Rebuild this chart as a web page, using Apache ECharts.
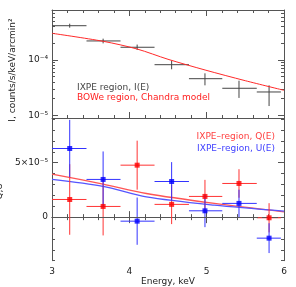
<!DOCTYPE html>
<html><head><meta charset="utf-8">
<script src="https://cdn.jsdelivr.net/npm/echarts@6/dist/echarts.min.js"></script>
<style>html,body{margin:0;padding:0;background:#fff}#c{width:296px;height:287px}</style>
</head><body><div id="c"></div>
<script>
// ---- data ----
const energyCenter = [3.229, 3.661, 4.101, 4.547, 4.978, 5.418, 5.807];
const energyLo     = [3.0,   3.446, 3.886, 4.326, 4.771, 5.202, 5.648];
const energyHi     = [3.446, 3.886, 4.326, 4.771, 5.202, 5.648, 5.96];

const intensity   = [4.17e-4, 2.21e-4, 1.70e-4, 8.22e-5, 4.59e-5, 3.08e-5, 2.64e-5];
const intensityLo = [3.84e-4, 2.00e-4, 1.52e-4, 6.79e-5, 3.48e-5, 2.06e-5, 1.47e-5];
const intensityHi = [4.53e-4, 2.43e-4, 1.90e-4, 9.71e-5, 5.74e-5, 4.22e-5, 3.48e-5];

const modelIEnergy = [3.0, 3.66, 4.10, 4.50, 4.98, 5.50, 6.0];
const modelI       = [3.04e-4, 2.18e-4, 1.58e-4, 1.03e-4, 6.59e-5, 4.22e-5, 2.83e-5];

const qValue = [1.62e-5, 0.98e-5, 4.77e-5, 1.17e-5, 1.90e-5, 3.09e-5, -0.06e-5];
const qErr   = [3.24e-5, 2.66e-5, 2.25e-5, 1.81e-5, 1.52e-5, 1.31e-5, 1.34e-5];
const uValue = [6.30e-5, 3.46e-5, -0.37e-5, 3.27e-5, 0.58e-5, 1.26e-5, -1.93e-5];
const uErr   = [2.63e-5, 2.57e-5, 2.17e-5, 1.78e-5, 1.50e-5, 1.26e-5, 1.37e-5];

const modelQUEnergy = [3.0, 3.66, 4.22, 5.10, 6.0];
const modelQ = [3.95e-5, 3.03e-5, 2.17e-5, 1.26e-5, 0.49e-5];
const modelU = [3.46e-5, 2.82e-5, 1.86e-5, 1.10e-5, 0.55e-5];

const logMajorTicks = [1e-5, 1e-4];
const logMinorTicks = [];
[1e-6, 1e-5, 1e-4].forEach(p => { for (let k = 2; k <= 9; k++) logMinorTicks.push(k * p); });
const linMajorTicks = [0, 5e-5];

const FONT = 'DejaVu Sans';
const FS = 9;
const AX = '#555';
const topMin = 8.93e-6, topMax = 8.02e-4;
const botMin = -4e-5, botMax = 9.1e-5;

// ---- helpers ----
function crossSeries(xi, yi, data, color, name) {
  return {
    type: 'custom', name, xAxisIndex: xi, yAxisIndex: yi, z: 3,
    data,
    renderItem(params, api) {
      const x = api.value(0), y = api.value(1);
      const a = api.coord([api.value(2), y]), b = api.coord([api.value(3), y]);
      const c = api.coord([x, api.value(4)]), d = api.coord([x, api.value(5)]);
      const st = { stroke: color, lineWidth: 1 };
      return { type: 'group', children: [
        { type: 'line', shape: { x1: a[0], y1: a[1], x2: b[0], y2: b[1] }, style: st },
        { type: 'line', shape: { x1: c[0], y1: c[1], x2: d[0], y2: d[1] }, style: st }
      ]};
    }
  };
}
function supNum(n) {
  const map = {'-':'⁻','0':'⁰','1':'¹','2':'²','3':'³','4':'⁴','5':'⁵','6':'⁶','7':'⁷','8':'⁸','9':'⁹'};
  return String(n).split('').map(ch => map[ch]).join('');
}
const xBase = (grid, pos, labels) => ({
  type: 'value', gridIndex: grid, position: pos, min: 3, max: 6, interval: 1,
  axisLine: { show: true, lineStyle: { color: AX, width: 1 } },
  axisTick: { show: true, inside: true, length: 6, lineStyle: { color: AX } },
  minorTick: { show: true, splitNumber: 5, length: 3, lineStyle: { color: AX } },
  splitLine: { show: false }, minorSplitLine: { show: false },
  axisLabel: { show: labels, color: '#222', fontFamily: FONT, fontSize: FS, margin: 6 }
});
const yLog = (pos, ticks, len, labels, lineShow) => ({
  type: 'log', gridIndex: 0, position: pos, min: topMin, max: topMax, logBase: 10,
  axisLine: { show: lineShow, lineStyle: { color: AX, width: 1 } },
  axisTick: { show: true, inside: true, length: len, customValues: ticks, lineStyle: { color: AX } },
  splitLine: { show: false },
  axisLabel: { show: labels, customValues: ticks, color: '#222', fontFamily: FONT, fontSize: FS, margin: 4,
    formatter: v => '10' + supNum(Math.round(Math.log10(v))) }
});
const yLin = (pos, major, labels, lineShow) => ({
  type: 'value', gridIndex: 1, position: pos, min: botMin, max: botMax,
  interval: 1e-5,
  axisLine: { show: lineShow, lineStyle: { color: AX, width: 1 } },
  axisTick: major ? { show: true, inside: true, length: 6, customValues: linMajorTicks, lineStyle: { color: AX } }
                  : { show: true, inside: true, length: 3, lineStyle: { color: AX } },
  splitLine: { show: false },
  axisLabel: major && labels ? { show: true, customValues: linMajorTicks, color: '#222', fontFamily: FONT, fontSize: FS, margin: 4,
    formatter: v => v === 0 ? '0' : '5×10⁻⁵' } : { show: false }
});

const iData = energyCenter.map((e, i) => [e, intensity[i], energyLo[i], energyHi[i], intensityLo[i], intensityHi[i]]);
const qData = energyCenter.map((e, i) => [e, qValue[i], energyLo[i], energyHi[i], qValue[i] - qErr[i], qValue[i] + qErr[i]]);
const uData = energyCenter.map((e, i) => [e, uValue[i], energyLo[i], energyHi[i], uValue[i] - uErr[i], uValue[i] + uErr[i]]);

const yAxes = [
  Object.assign(yLog('left', logMajorTicks, 6, true, true), {
    name: 'I, counts/s/keV/arcmin²', nameLocation: 'middle', nameGap: 33, nameRotate: 90,
    nameTextStyle: { color: '#222', fontFamily: FONT, fontSize: FS, padding: [0, 12, 0, 0] } }),
  yLog('left', logMinorTicks, 3, false, false),
  yLog('right', logMajorTicks, 6, false, true),
  yLog('right', logMinorTicks, 3, false, false),
  Object.assign(yLin('left', true, true, true), {
    name: 'Q,U', nameLocation: 'middle', nameGap: 39, nameRotate: 90,
    nameTextStyle: { color: '#222', fontFamily: FONT, fontSize: FS, padding: [0, 4, 0, 0] } }),
  yLin('left', false, false, false),
  yLin('right', true, false, true),
  yLin('right', false, false, false)
];

const option = {
  animation: false,
  backgroundColor: '#fff',
  textStyle: { fontFamily: FONT },
  grid: [
    { left: 52, right: 12, top: 10, height: 108, outerBoundsMode: 'none' },
    { left: 52, right: 12, top: 118, height: 142.7, outerBoundsMode: 'none' }
  ],
  xAxis: [
    xBase(0, 'bottom', false),
    xBase(0, 'top', false),
    Object.assign(xBase(1, 'bottom', true), { name: 'Energy, keV', nameLocation: 'middle', nameGap: 16,
      nameTextStyle: { color: '#222', fontFamily: FONT, fontSize: FS } }),
    xBase(1, 'top', false)
  ],
  yAxis: yAxes,
  series: [
    crossSeries(0, 0, iData, '#444', 'I'),
    { type: 'line', xAxisIndex: 0, yAxisIndex: 0, data: modelIEnergy.map((e, i) => [e, modelI[i]]),
      showSymbol: false, symbol: 'none', smooth: 0.3, lineStyle: { color: '#ff2a2a', width: 1 }, z: 4 },
    { type: 'line', xAxisIndex: 2, yAxisIndex: 4, data: modelQUEnergy.map((e, i) => [e, modelQ[i]]),
      symbol: 'none', smooth: 0.3, lineStyle: { color: '#ff5555', width: 1.3 }, z: 2,
      markLine: { silent: true, symbol: 'none', label: { show: false },
        lineStyle: { color: '#555', type: [6, 4], width: 1 }, data: [{ yAxis: 0 }] } },
    { type: 'line', xAxisIndex: 2, yAxisIndex: 4, data: modelQUEnergy.map((e, i) => [e, modelU[i]]),
      symbol: 'none', smooth: 0.3, lineStyle: { color: '#5555ff', width: 1.3 }, z: 2 },
    crossSeries(2, 4, qData, '#ff3333', 'Qerr'),
    crossSeries(2, 4, uData, '#3333ff', 'Uerr'),
    { type: 'scatter', xAxisIndex: 2, yAxisIndex: 4, data: qData.map(d => [d[0], d[1]]),
      symbol: 'rect', symbolSize: 5, itemStyle: { color: '#ff0000' }, z: 5 },
    { type: 'scatter', xAxisIndex: 2, yAxisIndex: 4, data: uData.map(d => [d[0], d[1]]),
      symbol: 'rect', symbolSize: 5, itemStyle: { color: '#0000ff' }, z: 5 }
  ],
  graphic: [
    { type: 'text', left: 77, top: 83, style: { text: 'IXPE region, I(E)', fill: '#444', font: FS + 'px "DejaVu Sans"' } },
    { type: 'text', left: 77, top: 93, style: { text: 'BOWe region, Chandra model', fill: '#ff2020', font: FS + 'px "DejaVu Sans"' } },
    { type: 'text', right: 21, top: 132, style: { text: 'IXPE–region, Q(E)', fill: '#ff4040', font: FS + 'px "DejaVu Sans"' } },
    { type: 'text', right: 21, top: 144, style: { text: 'IXPE–region, U(E)', fill: '#4040ff', font: FS + 'px "DejaVu Sans"' } }
  ]
};
echarts.init(document.getElementById('c'), null, { renderer: 'canvas' }).setOption(option);
</script></body></html>
